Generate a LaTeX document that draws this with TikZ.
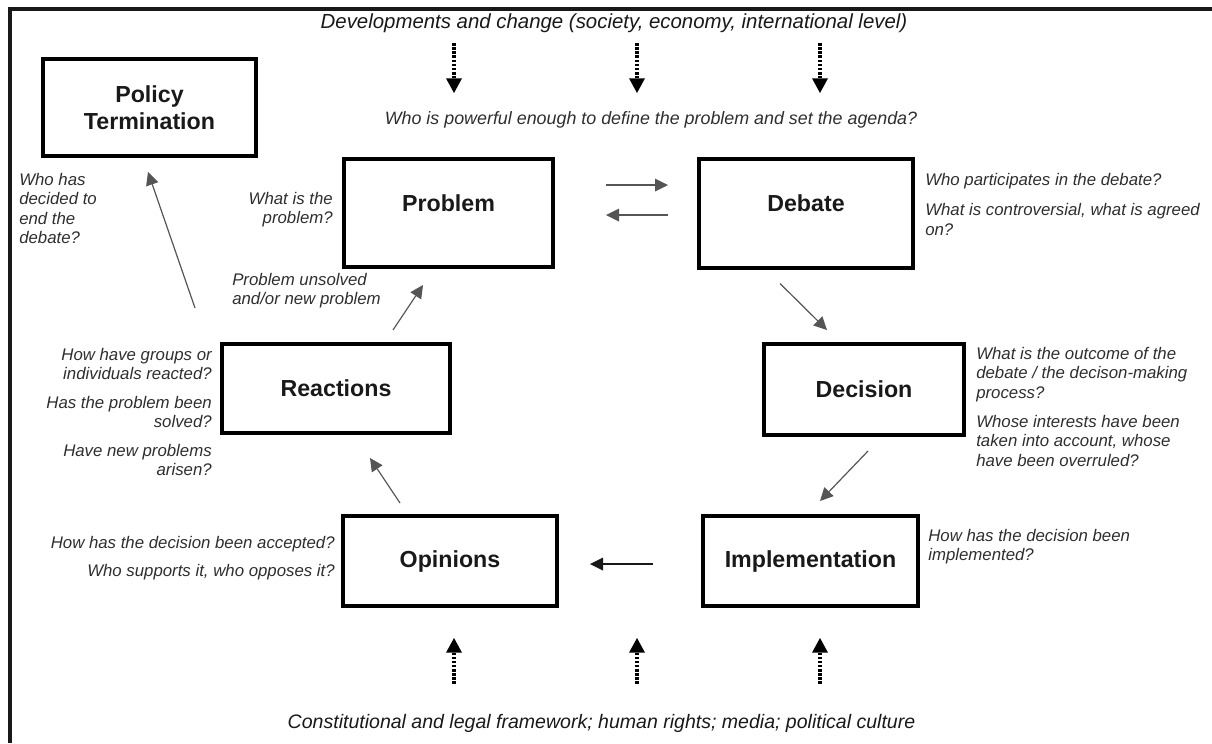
\documentclass[tikz,border=0pt]{standalone}
\usepackage{fontspec}
\setmainfont{Liberation Sans}
\usepackage{tikz}
\usetikzlibrary{arrows.meta, calc}
\definecolor{qgray}{HTML}{2E2E2E}
\definecolor{agray}{HTML}{555555}

\begin{document}
\begin{tikzpicture}[x=0.75pt, y=-0.75pt,
    stage/.style={draw, line width=3pt, inner sep=0pt, align=center, text=black!90,
      font=\fontsize{17.4}{20.25}\selectfont\bfseries},
    question/.style={inner sep=0pt, text=qgray, font=\fontsize{12.6}{14.6}\selectfont\itshape},
    context/.style={inner sep=0pt, text=black!90, font=\fontsize{15.3}{18}\selectfont\itshape},
    flow/.style={draw=agray, line width=0.9pt, -{Triangle[length=9.75pt, width=9.75pt, line width=0pt]}},
    influence/.style={line width=2.6pt, dash pattern=on 2pt off 1.1pt,
      -{Triangle[length=11pt, width=12pt, line width=0pt]}}]
				\useasboundingbox (0,0) rectangle (1212,743);
				% Frame
				\draw[line width=2.6pt, black!90] (10,743) -- (10,9) -- (1212,9);
				
				% Outside influences
				\node[context, anchor=base] (developments) at (614,28) {Developments and change (society, economy, international level)};
				\node[context, anchor=base, font=\fontsize{14.65}{18}\selectfont\itshape] (framework) at (601.5,728) {Constitutional and legal framework; human rights; media; political culture};
				\foreach \xpos [count=\i] in {454,637,820} {
					\coordinate (top\i) at (\xpos,43);
					\coordinate (topend\i) at (\xpos,93);
					\draw[influence] (top\i) -- (topend\i);
					\coordinate (bottom\i) at (\xpos,684);
					\coordinate (bottomend\i) at (\xpos,638);
					\draw[influence] (bottom\i) -- (bottomend\i);
				}
				\node[question, anchor=base, font=\fontsize{13.4}{16}\selectfont\itshape] (agenda) at (651,124) {Who is powerful enough to define the problem and set the agenda?};
				
				% Stages of the cycle
				\node[stage, minimum width=159.75pt, minimum height=72.75pt] (termination) at (149.5,107.5) {Policy\\Termination};
				\node[stage, minimum width=156.75pt, minimum height=81pt, text height=12.5pt, text depth=15.5pt] (problem) at (448.5,213) {Problem};
				\node[stage, minimum width=160.5pt, minimum height=81.75pt, text height=12.5pt, text depth=15.5pt] (debate) at (806,213.5) {Debate};
				\node[stage, minimum width=150pt, minimum height=68.25pt] (decision) at (864,389.5) {Decision};
				\node[stage, minimum width=161.25pt, minimum height=67.5pt] (implementation) at (810.5,561) {Implementation};
				\node[stage, minimum width=160.5pt, minimum height=67.5pt] (opinions) at (450,561) {Opinions};
				\node[stage, minimum width=171pt, minimum height=66.75pt] (reactions) at (336,388.5) {Reactions};
				
				% Questions
				\node[question, anchor=north west, align=left] (q-termination) at (19,173) {Who has\\decided to\\end the\\debate?};
				\node[question, anchor=north east, align=right] (q-problem) at (333,192) {What is the\\problem?};
				\node[question, anchor=north west, align=left] (q-debate) at (925,173) {Who participates in the debate?\\[8pt]What is controversial, what is agreed\\on?};
				\node[question, anchor=north west, align=left] (q-decision) at (976,347) {What is the outcome of the\\debate / the decison-making\\process?\\[7pt]Whose interests have been\\taken into account, whose\\have been overruled?};
				\node[question, anchor=north west, align=left] (q-implementation) at (928,529) {How has the decision been\\implemented?};
				\node[question, anchor=north east, align=right] (q-opinions) at (335,536) {How has the decision been accepted?\\[6.4pt]Who supports it, who opposes it?};
				\node[question, anchor=north east, align=right] (q-reactions) at (212,348) {How have groups or\\individuals reacted?\\[6.8pt]Has the problem been\\solved?\\[6.8pt]Have new problems\\arisen?};
				\node[question, anchor=north west, align=left] (q-unsolved) at (232,273) {Problem unsolved\\and/or new problem};
				
				% Arrows between the stages
				\draw[flow] ($(problem.east)+(51,-28)$) -- ($(debate.west)+(-29,-28.5)$);
				\draw[flow] ($(debate.west)+(-29,1.5)$) -- ($(problem.east)+(51,2)$);
				\draw[flow] ($(debate.south)+(-26,13.5)$) -- ($(decision.north)+(-37,-12)$);
				\draw[flow] ($(decision.south)+(4,14)$) -- ($(implementation.north)+(9.5,-13)$);
				\draw[flow, draw=black!90] ($(implementation.west)+(-48,3)$) -- ($(opinions.east)+(31,3)$);
				\draw[flow] ($(opinions.north)+(-50,-11)$) -- ($(reactions.south)+(34,23)$);
				\draw[flow] ($(reactions.north)+(57,-12)$) -- ($(problem.south)+(-25.5,16)$);
				\draw[flow] ($(reactions.north)+(-141,-34)$) -- ($(termination.south)+(-1.5,14)$);
			\end{tikzpicture}
\end{document}
